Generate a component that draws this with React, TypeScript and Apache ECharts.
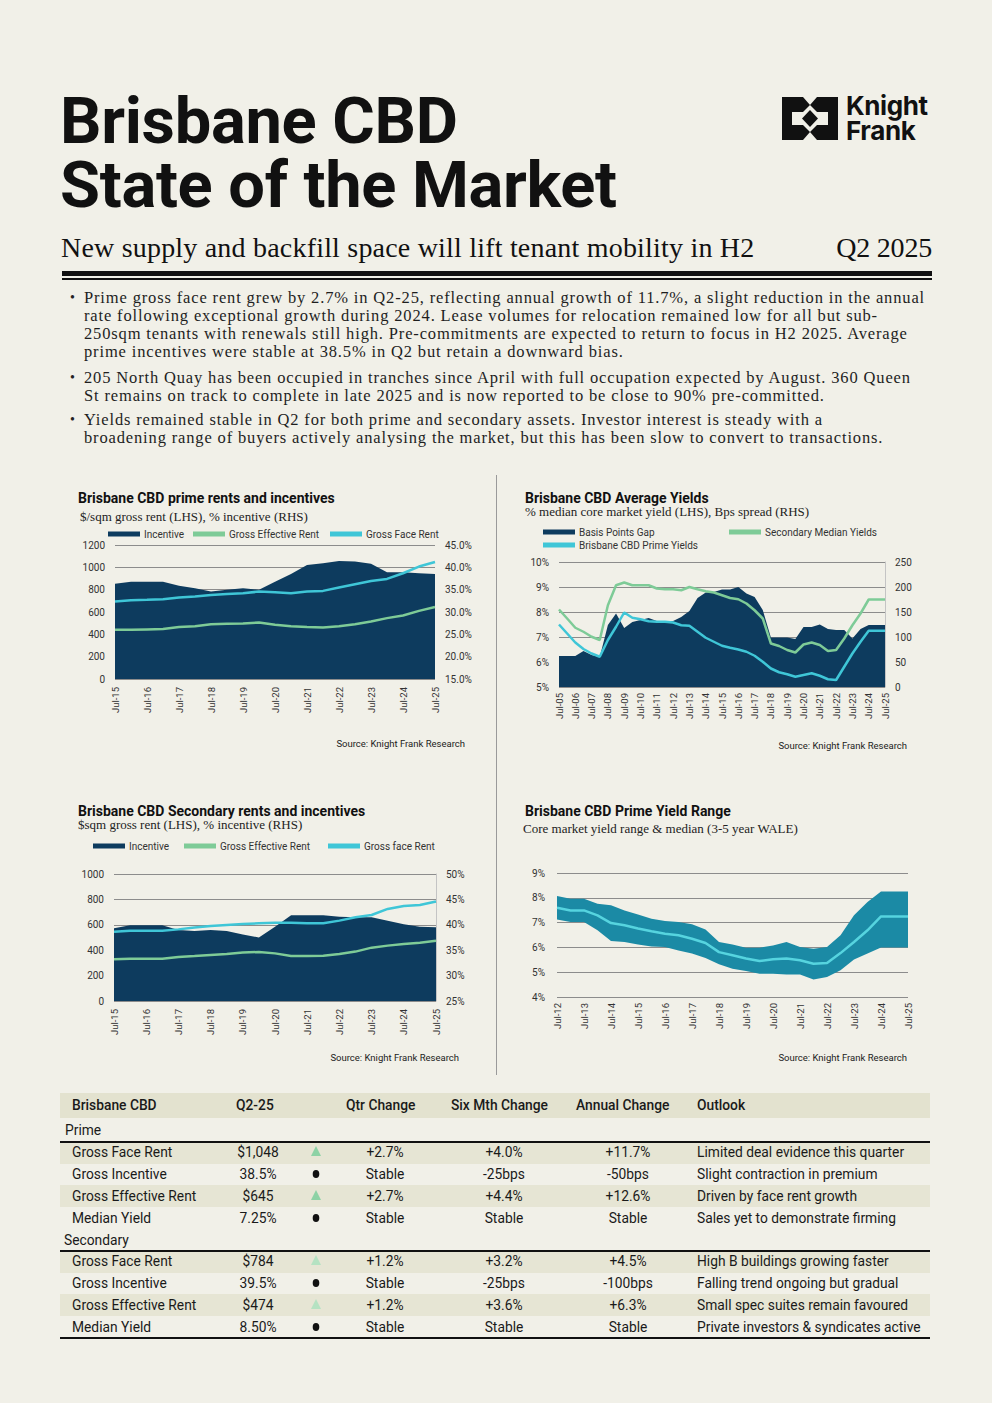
import React, { useEffect, useRef } from 'react';
import * as echarts from 'echarts';

const BG = '#f1f0e8';
const NAVY = '#0d3b5e';
const GREEN = '#7ecb97';
const CYAN = '#3fc6d7';
const TEAL = '#1b8aa5';
const MEDIAN = '#56d4df';
const SANS = 'Roboto, "Liberation Sans", Arial, sans-serif';
const SERIF = '"Liberation Serif", "DejaVu Serif", serif';

// ---------- data ----------
const rentDates = ['Jul-15','Jan-16','Jul-16','Jan-17','Jul-17','Jan-18','Jul-18','Jan-19','Jul-19','Jan-20','Jul-20','Jan-21','Jul-21','Jan-22','Jul-22','Jan-23','Jul-23','Jan-24','Jul-24','Jan-25','Jul-25'];
const primeIncentive = [36.3,36.8,36.8,36.8,35.9,35.3,34.6,35.0,35.3,35.0,36.8,38.5,40.5,40.9,41.4,41.3,40.8,38.9,38.9,38.7,38.5];
const primeFaceRent = [694,706,709,715,730,738,753,762,768,783,777,768,783,789,819,849,878,896,947,1007,1048];
const primeEffectiveRent = [441,441,444,447,465,473,491,494,497,506,485,473,465,462,473,491,515,545,569,610,645];

const secIncentive = [39.3,39.9,39.9,39.9,39.0,38.8,39.0,38.8,38.1,37.5,39.6,41.9,41.9,41.9,41.6,41.5,41.5,40.8,40.1,39.6,39.5];
const secFaceRent = [546,554,554,554,564,578,591,599,606,612,617,617,612,612,633,659,677,725,748,756,784];
const secEffectiveRent = [328,333,333,333,347,354,362,370,381,386,375,354,354,357,370,389,420,436,449,459,474];

const yieldDates = ['Jul-05','Jan-06','Jul-06','Jan-07','Jul-07','Jan-08','Jul-08','Jan-09','Jul-09','Jan-10','Jul-10','Jan-11','Jul-11','Jan-12','Jul-12','Jan-13','Jul-13','Jan-14','Jul-14','Jan-15','Jul-15','Jan-16','Jul-16','Jan-17','Jul-17','Jan-18','Jul-18','Jan-19','Jul-19','Jan-20','Jul-20','Jan-21','Jul-21','Jan-22','Jul-22','Jan-23','Jul-23','Jan-24','Jul-24','Jan-25','Jul-25'];
const spreadBps = [62,62,62,72,64,60,124,147,118,130,134,138,132,130,132,140,152,178,189,190,195,195,200,187,180,154,99,99,99,96,120,120,125,116,114,114,97,116,124,124,124];
const secondaryYield = [8.10,7.74,7.37,7.21,7.01,6.88,8.27,9.07,9.18,9.07,9.07,9.07,8.94,8.91,8.91,8.87,9.00,8.91,8.83,8.78,8.67,8.56,8.51,8.34,8.07,7.74,6.74,6.64,6.48,6.38,6.70,6.78,6.68,6.44,6.48,6.94,7.47,7.94,8.50,8.50,8.50];
const primeYield = [7.50,7.14,6.78,6.52,6.34,6.21,6.88,7.41,7.98,7.77,7.71,7.63,7.61,7.61,7.58,7.47,7.45,7.21,6.97,6.81,6.65,6.57,6.50,6.41,6.25,6.01,5.74,5.59,5.51,5.41,5.48,5.55,5.45,5.31,5.28,5.81,6.34,6.81,7.25,7.25,7.25];

const rangeDates = ['Jul-12','Jan-13','Jul-13','Jan-14','Jul-14','Jan-15','Jul-15','Jan-16','Jul-16','Jan-17','Jul-17','Jan-18','Jul-18','Jan-19','Jul-19','Jan-20','Jul-20','Jan-21','Jul-21','Jan-22','Jul-22','Jan-23','Jul-23','Jan-24','Jul-24','Jan-25','Jul-25'];
const rangeHigh = [8.07,7.96,7.96,7.76,7.70,7.49,7.33,7.16,7.06,7.02,6.93,6.72,6.22,6.12,5.99,5.99,6.08,6.22,6.02,5.95,6.02,6.49,7.30,7.83,8.25,8.25,8.25];
const rangeLow = [7.12,7.02,7.02,6.69,6.26,6.22,6.12,6.04,6.02,5.88,5.75,5.57,5.32,5.14,5.05,4.94,4.94,4.91,4.91,4.71,4.81,5.08,5.51,5.75,6.00,6.00,6.00];
const rangeMedian = [7.60,7.49,7.49,7.29,6.98,6.89,6.76,6.65,6.55,6.49,6.35,6.18,5.81,5.68,5.55,5.45,5.52,5.55,5.48,5.34,5.37,5.77,6.22,6.69,7.25,7.25,7.25];

const tableHeader = ['Brisbane CBD','Q2-25','Qtr Change','Six Mth Change','Annual Change','Outlook'];
const primeRows = [
  ['Gross Face Rent','$1,048','up','+2.7%','+4.0%','+11.7%','Limited deal evidence this quarter'],
  ['Gross Incentive','38.5%','dot','Stable','-25bps','-50bps','Slight contraction in premium'],
  ['Gross Effective Rent','$645','up','+2.7%','+4.4%','+12.6%','Driven by face rent growth'],
  ['Median Yield','7.25%','dot','Stable','Stable','Stable','Sales yet to demonstrate firming'],
];
const secondaryRows = [
  ['Gross Face Rent','$784','up','+1.2%','+3.2%','+4.5%','High B buildings growing faster'],
  ['Gross Incentive','39.5%','dot','Stable','-25bps','-100bps','Falling trend ongoing but gradual'],
  ['Gross Effective Rent','$474','up','+1.2%','+3.6%','+6.3%','Small spec suites remain favoured'],
  ['Median Yield','8.50%','dot','Stable','Stable','Stable','Private investors & syndicates active'],
];

const bulletLines = [
  ['Prime gross face rent grew by 2.7% in Q2-25, reflecting annual growth of 11.7%, a slight reduction in the annual',
   'rate following exceptional growth during 2024. Lease volumes for relocation remained low for all but sub-',
   '250sqm tenants with renewals still high. Pre-commitments are expected to return to focus in H2 2025. Average',
   'prime incentives were stable at 38.5% in Q2 but retain a downward bias.'],
  ['205 North Quay has been occupied in tranches since April with full occupation expected by August. 360 Queen',
   'St remains on track to complete in late 2025 and is now reported to be close to 90% pre-committed.'],
  ['Yields remained stable in Q2 for both prime and secondary assets. Investor interest is steady with a',
   'broadening range of buyers actively analysing the market, but this has been slow to convert to transactions.'],
];
const bulletTops = [[298, 316, 334, 352], [378, 396], [420, 438]];

// ---------- chart helpers ----------
const axisText = { fontSize: 10, color: '#333', fontFamily: SANS };

function titles(t: string, sub: string, left: number, top: number, subLeft: number, subTop: number) {
  return [
    { text: t, left, top, padding: 0, textStyle: { fontSize: 14, fontWeight: 'bold', color: '#111', fontFamily: SANS } },
    { text: sub, left: subLeft, top: subTop, padding: 0, textStyle: { fontSize: 13, fontWeight: 'normal', color: '#222', fontFamily: SERIF } },
  ];
}

function legendItem(name: string, left: number, top: number) {
  return {
    left, top, padding: 0, itemGap: 0, itemWidth: 32, itemHeight: 5,
    data: [{ name, icon: 'rect' }],
    textStyle: { fontSize: 10, color: '#333', fontFamily: SANS, padding: [0, 0, 0, -1] },
  };
}

function source(right: number, top: number) {
  return [{ type: 'text', right, top, style: { text: 'Source: Knight Frank Research', fontSize: 9.5, fill: '#222', fontFamily: SANS } }];
}

const plain = (v: number) => String(v);

function rentOption(cfg: any) {
  return {
    animation: false,
    textStyle: { fontFamily: SANS },
    title: titles(cfg.title, cfg.sub, cfg.tl, cfg.tt, cfg.sl, cfg.st),
    legend: [
      legendItem('Incentive', cfg.lg[0], cfg.lt),
      legendItem('Gross Effective Rent', cfg.lg[1], cfg.lt),
      legendItem(cfg.faceName, cfg.lg[2], cfg.lt),
    ],
    graphic: source(cfg.srcRight, cfg.srcTop),
    grid: cfg.grid,
    xAxis: {
      type: 'category', data: rentDates, boundaryGap: false,
      axisLine: { show: false }, axisTick: { show: false },
      axisLabel: { ...axisText, fontSize: 9.5, rotate: 90, interval: 1, margin: 8 },
    },
    yAxis: [
      { type: 'value', min: 0, max: cfg.lmax, interval: 200, axisLabel: { ...axisText, margin: 10, formatter: plain },
        axisLine: { show: false }, axisTick: { show: false }, splitLine: { lineStyle: { color: '#8c8c8c', width: 1 } } },
      { type: 'value', min: cfg.rmin, max: cfg.rmax, interval: 5,
        axisLabel: { ...axisText, margin: 10, formatter: (v: number) => cfg.rdec ? v.toFixed(1) + '%' : v + '%' },
        axisLine: { show: cfg.rline, lineStyle: { color: '#c4c4c4' } }, axisTick: { show: false }, splitLine: { show: false } },
    ],
    series: [
      { name: 'Incentive', type: 'line', yAxisIndex: 1, data: cfg.inc, showSymbol: false, symbol: 'none',
        lineStyle: { width: 0, color: NAVY }, itemStyle: { color: NAVY }, areaStyle: { color: NAVY, opacity: 1 }, z: 1 },
      { name: 'Gross Effective Rent', type: 'line', data: cfg.eff, showSymbol: false, symbol: 'none',
        lineStyle: { width: 2.5, color: GREEN }, itemStyle: { color: GREEN }, z: 3 },
      { name: cfg.faceName, type: 'line', data: cfg.face, showSymbol: false, symbol: 'none',
        lineStyle: { width: 2.5, color: CYAN }, itemStyle: { color: CYAN }, z: 4 },
    ],
  };
}

const option1 = rentOption({
  title: 'Brisbane CBD prime rents and incentives', sub: '$/sqm gross rent (LHS), % incentive (RHS)',
  tl: 18, tt: 6, sl: 20, st: 25, lg: [48, 133, 270], lt: 44, faceName: 'Gross Face Rent',
  srcRight: 15, srcTop: 253, grid: { left: 55, right: 45, top: 60, bottom: 76 },
  lmax: 1200, rmin: 15, rmax: 45, rdec: true, rline: false,
  inc: primeIncentive, eff: primeEffectiveRent, face: primeFaceRent,
});

const option3 = rentOption({
  title: 'Brisbane CBD Secondary rents and incentives', sub: '$sqm gross rent (LHS), % incentive (RHS)',
  tl: 18, tt: 4, sl: 18, st: 18, lg: [33, 124, 268], lt: 41, faceName: 'Gross face Rent',
  srcRight: 21, srcTop: 252, grid: { left: 54, right: 44, top: 74, bottom: 69 },
  lmax: 1000, rmin: 25, rmax: 50, rdec: false, rline: true,
  inc: secIncentive, eff: secEffectiveRent, face: secFaceRent,
});

const option2 = {
  animation: false,
  textStyle: { fontFamily: SANS },
  title: titles('Brisbane CBD Average Yields', '% median core market yield (LHS), Bps spread (RHS)', 25, 6, 25, 20),
  legend: [
    legendItem('Basis Points Gap', 43, 42),
    legendItem('Secondary Median Yields', 229, 42),
    legendItem('Brisbane CBD Prime Yields', 43, 55),
  ],
  graphic: source(13, 255),
  grid: { left: 59, right: 35, top: 77, bottom: 68 },
  xAxis: {
    type: 'category', data: yieldDates, boundaryGap: false,
    axisLine: { show: false }, axisTick: { show: false },
    axisLabel: { ...axisText, fontSize: 9.5, rotate: 90, interval: 1, margin: 6 },
  },
  yAxis: [
    { type: 'value', min: 5, max: 10, interval: 1, axisLabel: { ...axisText, margin: 10, formatter: '{value}%' },
      axisLine: { show: false }, axisTick: { show: false }, splitLine: { lineStyle: { color: '#8c8c8c' } } },
    { type: 'value', min: 0, max: 250, interval: 50, axisLabel: { ...axisText, margin: 10 },
      axisLine: { show: true, lineStyle: { color: '#c4c4c4' } }, axisTick: { show: false }, splitLine: { show: false } },
  ],
  series: [
    { name: 'Basis Points Gap', type: 'line', yAxisIndex: 1, data: spreadBps, showSymbol: false, symbol: 'none',
      lineStyle: { width: 0, color: NAVY }, itemStyle: { color: NAVY }, areaStyle: { color: NAVY, opacity: 1 }, z: 1 },
    { name: 'Secondary Median Yields', type: 'line', data: secondaryYield, showSymbol: false, symbol: 'none',
      lineStyle: { width: 2.5, color: GREEN }, itemStyle: { color: GREEN }, z: 3 },
    { name: 'Brisbane CBD Prime Yields', type: 'line', data: primeYield, showSymbol: false, symbol: 'none',
      lineStyle: { width: 2.5, color: CYAN }, itemStyle: { color: CYAN }, z: 4 },
  ],
};

const rangeSpan = rangeHigh.map((h, i) => +(h - rangeLow[i]).toFixed(2));

const option4 = {
  animation: false,
  textStyle: { fontFamily: SANS },
  title: titles('Brisbane CBD Prime Yield Range', 'Core market yield range & median (3-5 year WALE)', 25, 4, 23, 22),
  graphic: source(13, 252),
  grid: { left: 57, right: 12, top: 73, bottom: 73 },
  xAxis: {
    type: 'category', data: rangeDates, boundaryGap: false,
    axisLine: { show: false }, axisTick: { show: false },
    axisLabel: { ...axisText, fontSize: 9.5, rotate: 90, interval: 1, margin: 6 },
  },
  yAxis: {
    type: 'value', min: 4, max: 9, interval: 1, axisLabel: { ...axisText, margin: 12, formatter: '{value}%' },
    axisLine: { show: false }, axisTick: { show: false }, splitLine: { lineStyle: { color: '#8c8c8c' } },
  },
  series: [
    { name: 'Low', type: 'line', stack: 'range', data: rangeLow, showSymbol: false, symbol: 'none',
      lineStyle: { width: 0 }, areaStyle: { opacity: 0 }, z: 1 },
    { name: 'Range', type: 'line', stack: 'range', data: rangeSpan, showSymbol: false, symbol: 'none',
      lineStyle: { width: 0 }, areaStyle: { color: TEAL, opacity: 1 }, z: 2 },
    { name: 'Median', type: 'line', data: rangeMedian, showSymbol: false, symbol: 'none',
      lineStyle: { width: 2.5, color: MEDIAN }, z: 3 },
  ],
};

function Chart({ option, left, top, width, height }: any) {
  const ref = useRef<HTMLDivElement>(null);
  useEffect(() => {
    if (!ref.current) return;
    const chart = echarts.init(ref.current, null, { renderer: 'svg' });
    chart.setOption(option);
    return () => chart.dispose();
  }, [option]);
  return <div ref={ref} style={{ position: 'absolute', left, top, width, height }} />;
}

const T = (p: any) => (
  <div style={{ position: 'absolute', whiteSpace: 'nowrap', ...p.style }}>{p.children}</div>
);

// table column layout
const colName = 72;
const colQ = 258;
const colIcon = 316;
const colQtr = 385;
const colSix = 504;
const colAnn = 628;
const colOut = 697;
const TFS = 13.8;

function Icon({ kind, faint }: any) {
  if (kind === 'up') {
    return (
      <svg width="10" height="10" style={{ position: 'absolute', left: -5, top: -6 }}>
        <polygon points="5,0 10,10 0,10" fill={faint ? '#b5e2c2' : '#8dd2a5'} />
      </svg>
    );
  }
  return (
    <svg width="8" height="10" style={{ position: 'absolute', left: -4, top: -5 }}>
      <ellipse cx="4" cy="5" rx="3.3" ry="4" fill="#111" />
    </svg>
  );
}

function Row({ r, y, faint }: any) {
  const base = { fontSize: TFS, color: '#1a1a1a', fontFamily: SANS, lineHeight: '18px', top: y - 9 };
  const center = (x: number, txt: string) => (
    <T style={{ ...base, left: x - 60, width: 120, textAlign: 'center' }}>{txt}</T>
  );
  return (
    <>
      <T style={{ ...base, left: colName }}>{r[0]}</T>
      {center(colQ, r[1])}
      <div style={{ position: 'absolute', left: colIcon, top: y }}><Icon kind={r[2]} faint={faint} /></div>
      {center(colQtr, r[3])}
      {center(colSix, r[4])}
      {center(colAnn, r[5])}
      <T style={{ ...base, left: colOut }}>{r[6]}</T>
    </>
  );
}

function Table() {
  const primeY = [1152, 1174, 1196, 1218];
  const secY = [1261, 1283, 1305, 1327];
  const hdr = { fontSize: TFS, fontWeight: 500, color: '#1a1a1a', fontFamily: SANS, lineHeight: '18px', top: 1096 };
  const grp = { fontSize: TFS, color: '#1a1a1a', fontFamily: SANS, lineHeight: '18px' };
  return (
    <>
      <div style={{ position: 'absolute', left: 60, top: 1093, width: 870, height: 25, background: '#e3e2cf' }} />
      {[1142, 1185, 1251, 1294].map((t) => (
        <div key={t} style={{ position: 'absolute', left: 60, top: t, width: 870, height: 22, background: '#e6e5d4' }} />
      ))}
      <div style={{ position: 'absolute', left: 60, top: 1141, width: 870, height: 2, background: '#111' }} />
      <div style={{ position: 'absolute', left: 60, top: 1250, width: 870, height: 2, background: '#111' }} />
      <div style={{ position: 'absolute', left: 60, top: 1337, width: 870, height: 2, background: '#111' }} />
      <T style={{ ...hdr, left: 72 }}>{tableHeader[0]}</T>
      <T style={{ ...hdr, left: 236 }}>{tableHeader[1]}</T>
      <T style={{ ...hdr, left: 346 }}>{tableHeader[2]}</T>
      <T style={{ ...hdr, left: 451 }}>{tableHeader[3]}</T>
      <T style={{ ...hdr, left: 576 }}>{tableHeader[4]}</T>
      <T style={{ ...hdr, left: 697 }}>{tableHeader[5]}</T>
      <T style={{ ...grp, top: 1121, left: 65 }}>Prime</T>
      <T style={{ ...grp, top: 1231, left: 64 }}>Secondary</T>
      {primeRows.map((r, i) => <Row key={'p' + i} r={r} y={primeY[i]} faint={false} />)}
      {secondaryRows.map((r, i) => <Row key={'s' + i} r={r} y={secY[i]} faint={true} />)}
    </>
  );
}

function Logo() {
  const kf = { left: 846, top: 92.5, fontSize: 26, fontWeight: 700, fontFamily: 'Inter, Roboto, sans-serif', letterSpacing: '-0.4px', lineHeight: '25px', color: '#111', whiteSpace: 'pre' };
  return (
    <>
      <svg width="56" height="43" style={{ position: 'absolute', left: 782, top: 97 }} viewBox="0 0 56 43">
        <polygon points="0,0 21,0 28,8 21,15 0,15" fill="#111" />
        <polygon points="56,0 35,0 28,8 35,15 56,15" fill="#111" />
        <polygon points="0,43 21,43 28,35 21,28 0,28" fill="#111" />
        <polygon points="56,43 35,43 28,35 35,28 56,28" fill="#111" />
        <polygon points="28,13 36,21.5 28,30 20,21.5" fill="#111" />
        <polygon points="0,15 10,15 10,28 0,28" fill="#111" />
        <polygon points="56,15 46,15 46,28 56,28" fill="#111" />
      </svg>
      <T style={kf}>{'Knight\nFrank'}</T>
    </>
  );
}

export default function App() {
  useEffect(() => {
    document.body.style.margin = '0';
    document.body.style.background = BG;
  }, []);
  const head = { left: 60, top: 89, fontSize: 65, fontWeight: 700, letterSpacing: '-0.3px', lineHeight: '64px', color: '#111', fontFamily: SANS, whiteSpace: 'pre' };
  return (
    <div style={{ position: 'absolute', left: 0, top: 0, width: 992, height: 1403, background: BG, overflow: 'hidden', fontFamily: SANS }}>
      <T style={head}>{'Brisbane CBD\nState of the Market'}</T>
      <Logo />
      <T style={{ left: 61, top: 232, fontSize: 28, letterSpacing: '0.2px', lineHeight: '32px', color: '#111', fontFamily: SERIF }}>New supply and backfill space will lift tenant mobility in H2</T>
      <T style={{ left: 780, width: 152, textAlign: 'right', top: 232, fontSize: 28, letterSpacing: '-0.2px', lineHeight: '32px', color: '#111', fontFamily: SERIF }}>Q2 2025</T>
      <div style={{ position: 'absolute', left: 62, top: 271, width: 870, height: 5, background: '#111' }} />
      <div style={{ position: 'absolute', left: 62, top: 278, width: 870, height: 1.5, background: '#111' }} />
      {bulletLines.map((lines, bi) => (
        <React.Fragment key={bi}>
          <T style={{ left: 70, top: bulletTops[bi][0] - 9, fontSize: 14, lineHeight: '18px', color: '#222', fontFamily: SERIF }}>•</T>
          {lines.map((ln, li) => (
            <T key={li} style={{ left: 84, top: bulletTops[bi][li] - 9, fontSize: 16.5, lineHeight: '18px', letterSpacing: '0.85px', color: '#1e1e1e', fontFamily: SERIF }}>{ln}</T>
          ))}
        </React.Fragment>
      ))}
      <div style={{ position: 'absolute', left: 496, top: 475, width: 1, height: 600, background: '#9a9a9a' }} />
      <Chart option={option1} left={60} top={485} width={420} height={270} />
      <Chart option={option2} left={500} top={485} width={420} height={270} />
      <Chart option={option3} left={60} top={800} width={420} height={270} />
      <Chart option={option4} left={500} top={800} width={420} height={270} />
      <Table />
    </div>
  );
}
